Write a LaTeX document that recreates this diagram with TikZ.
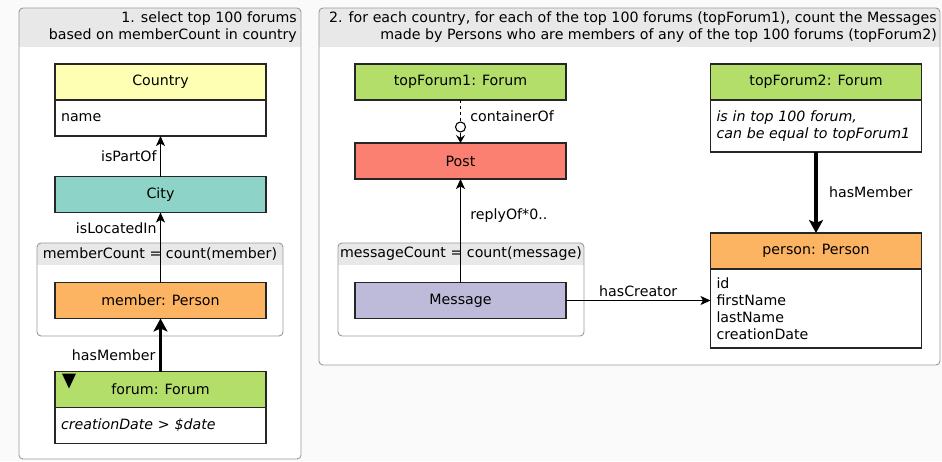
\documentclass[tikz,border=0pt]{standalone}
\usepackage{fontspec}
\setmainfont{DejaVu Sans}
\usepackage{tikz}
\usetikzlibrary{positioning,arrows.meta}

\definecolor{cyellow}{HTML}{FFFFB3}
\definecolor{cteal}{HTML}{8DD3C7}
\definecolor{csalmon}{HTML}{FB8072}
\definecolor{clavender}{HTML}{BEBADA}
\definecolor{corange}{HTML}{FDB462}
\definecolor{cgreen}{HTML}{B3DE69}
\definecolor{hdrgray}{HTML}{E8E8E8}
\definecolor{framegray}{HTML}{9A9A9A}

\tikzset{
  head/.style={draw=black!85, line width=1.1pt, minimum width=211pt, minimum height=36pt, inner sep=0pt, outer sep=0pt},
  body/.style={draw=black!85, line width=1.1pt, fill=white, text width=199pt, align=left, inner xsep=6pt, inner ysep=0pt, outer sep=0pt},
  rel/.style={line width=1.1pt, -{Stealth[length=10pt, width=9pt, inset=2.5pt]}},
  relthick/.style={line width=3.4pt, -{Stealth[length=13pt, width=14pt, inset=3pt]}},
  panel/.style={draw=framegray, line width=0.9pt, rounded corners=4pt}
}

\begin{document}
\begin{tikzpicture}[x=1pt, y=-1pt, font=\fontsize{14.2}{17}\selectfont]
\useasboundingbox[fill=black!2] (0,0) rectangle (942,461);

% panels
\begin{scope}
\clip[rounded corners=4pt] (19,8) rectangle (301,459);
\fill[white] (19,8) rectangle (301,459);
\fill[hdrgray] (19,8) rectangle (301,47);
\end{scope}
\draw[panel] (19,8) rectangle (301,459);
\node[anchor=north east, align=right, inner sep=0pt] (title1) at (297,12) {1. select top 100 forums\\based on memberCount in country};

\begin{scope}
\clip[rounded corners=4pt] (319,8) rectangle (940,365);
\fill[white] (319,8) rectangle (940,365);
\fill[hdrgray] (319,8) rectangle (940,47);
\end{scope}
\draw[panel] (319,8) rectangle (940,365);
\node[anchor=north east, align=right, inner sep=0pt] (title2) at (937,12) {2. for each country, for each of the top 100 forums (topForum1), count the Messages\\made by Persons who are members of any of the top 100 forums (topForum2)};

% groups
\begin{scope}
\clip[rounded corners=4pt] (37,243) rectangle (283,336);
\fill[hdrgray] (37,243) rectangle (283,265);
\end{scope}
\draw[panel] (37,243) rectangle (283,336);
\node (grp1) at (160,254) {memberCount = count(member)};

\begin{scope}
\clip[rounded corners=4pt] (338,243) rectangle (584,336);
\fill[hdrgray] (338,243) rectangle (584,265);
\end{scope}
\draw[panel] (338,243) rectangle (584,336);
\node (grp2) at (461,254) {messageCount = count(message)};

% left query
\node[head, fill=cyellow] (country) at (160.5,82) {Country};
\node[body, minimum height=36pt, below=0pt of country] (countryb) {name};
\node[head, fill=cteal] (city) at (160.5,194.5) {City};
\node[head, fill=corange] (member) at (160.5,300.5) {member: Person};
\node[head, fill=cgreen] (forum) at (160.5,389.5) {forum: Forum};
\node[body, minimum height=36pt, below=0pt of forum] (forumb) {\itshape creationDate > \$date};
\fill (forum.north west) ++(7,2) -- ++(14,0) -- ++(-7,15) -- cycle;

\draw[rel] (city) -- (countryb) node[midway, left] {isPartOf};
\draw[rel] (member) -- (city) node[pos=0.78, left] {isLocatedIn};
\draw[relthick] (forum) -- (member) node[pos=0.3, left] {hasMember};

% right query
\node[head, fill=cgreen] (topf1) at (460.5,82) {topForum1: Forum};
\node[head, fill=csalmon] (post) at (460.5,161) {Post};
\node[head, fill=clavender] (message) at (460.5,300.5) {Message};
\node[head, fill=cgreen] (topf2) at (816,82) {topForum2: Forum};
\node[body, minimum height=52pt, below=0pt of topf2] (topf2b) {\itshape is in top 100 forum,\\can be equal to topForum1};
\node[head, fill=corange] (person) at (816,251) {person: Person};
\node[body, minimum height=79pt, below=0pt of person] (personb) {id\\firstName\\lastName\\creationDate};

\node[draw, line width=1.1pt, fill=white, circle, minimum size=10pt, inner sep=0pt] (cof) at (460.5,127) {};
\draw[line width=1.1pt, dashed] (topf1) -- (cof) node[pos=0.75, right=6pt] {containerOf};
\draw[line width=1.1pt, -{Stealth[length=8pt, width=9pt, inset=3pt]}] (cof) -- (post);
\draw[rel] (message) -- (post) node[pos=0.65, right=6pt] {replyOf*0..};
\draw[rel] (message.east) -- (message.east -| personb.west) node[midway, above] {hasCreator};
\draw[relthick] (topf2b) -- (person) node[midway, right=8pt] {hasMember};

\end{tikzpicture}
\end{document}
